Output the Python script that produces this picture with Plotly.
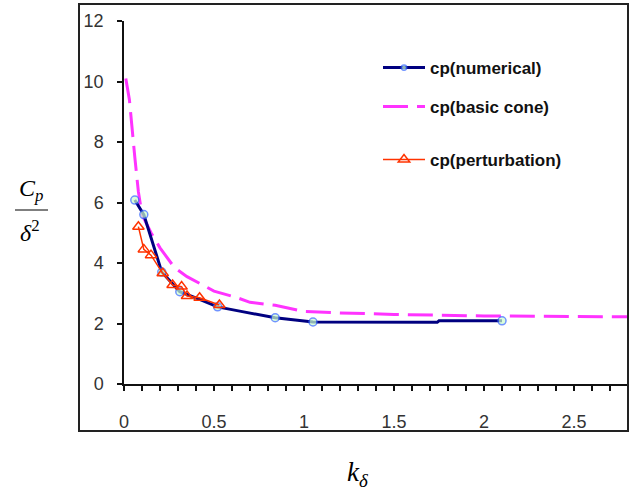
import plotly.graph_objects as go

# ---- data ----
num_x = [0.06, 0.11, 0.21, 0.31, 0.42, 0.52, 0.65, 0.84, 1.05, 1.74, 1.75, 2.10]
num_y = [6.08, 5.60, 3.70, 3.05, 2.80, 2.55, 2.40, 2.19, 2.05, 2.04, 2.09, 2.09]
num_marker = [1, 1, 1, 1, 0, 1, 0, 1, 1, 0, 0, 1]

cone_x = [0.01, 0.03, 0.06, 0.08, 0.10, 0.15, 0.20, 0.28, 0.35, 0.42, 0.50,
          0.62, 0.70, 0.84, 0.94, 1.00, 1.20, 1.50, 2.00, 2.50, 2.80]
cone_y = [10.1, 9.4, 7.5, 6.35, 5.6, 5.0, 4.5, 3.85, 3.55, 3.33, 3.07,
          2.87, 2.70, 2.60, 2.47, 2.40, 2.35, 2.30, 2.25, 2.22, 2.22]

pert_x = [0.08, 0.11, 0.15, 0.215, 0.27, 0.32, 0.35, 0.42, 0.53]
pert_y = [5.20, 4.45, 4.26, 3.66, 3.27, 3.22, 2.91, 2.85, 2.61]

names = ["cp(numerical)", "cp(basic cone)", "cp(perturbation)"]

x_ticks = [0, 0.5, 1, 1.5, 2, 2.5]
x_ticklabels = ["0", "0.5", "1", "1.5", "2", "2.5"]
y_ticks = [0, 2, 4, 6, 8, 10, 12]

W, H = 636, 495
L, R, T, B = 124, 8, 21, 111
pw, ph = W - L - R, H - T - B

fig = go.Figure()

fig.add_trace(go.Scatter(
    x=cone_x, y=cone_y, mode="lines", name=names[1], legend="legend2",
    line=dict(color="#ff33ff", width=3, dash="25px,9px"),
))
fig.add_trace(go.Scatter(
    x=num_x, y=num_y, mode="lines+markers", name=names[0], legend="legend",
    line=dict(color="#000080", width=3),
    marker=dict(symbol="circle", size=[8 * m for m in num_marker],
                color="#ccffcc", line=dict(color="#3366ff", width=1.5)),
))
fig.add_trace(go.Scatter(
    x=pert_x, y=pert_y, mode="lines+markers", name=names[2], legend="legend3",
    line=dict(color="#ff3300", width=1.5),
    marker=dict(symbol="triangle-up-open", size=10,
                color="#ff3300", line=dict(color="#ff3300", width=1.5)),
))

def px_to_paper_x(px):
    return (px - L) / pw

def px_to_paper_y(py):
    return (H - B - py) / ph

legend_font = dict(family="Liberation Sans, Arial", size=17, color="#111111",
                   weight="bold")
common_legend = dict(xanchor="left", yanchor="middle", bgcolor="rgba(0,0,0,0)",
                     borderwidth=0, font=legend_font, itemwidth=42,
                     xref="paper", yref="paper")

tick_font = dict(family="Liberation Sans, Arial", size=18, color="#333333")

fig.update_layout(
    width=W, height=H,
    margin=dict(l=L, r=R, t=T, b=B, pad=0),
    paper_bgcolor="white", plot_bgcolor="white",
    showlegend=True,
    legend=dict(x=px_to_paper_x(378), y=px_to_paper_y(68), **common_legend),
    legend2=dict(x=px_to_paper_x(378), y=px_to_paper_y(107), **common_legend),
    legend3=dict(x=px_to_paper_x(378), y=px_to_paper_y(160), **common_legend),
    xaxis=dict(
        range=[0, 2.8], tickvals=x_ticks, ticktext=x_ticklabels,
        showgrid=False, zeroline=False, showline=True, linecolor="#111111",
        linewidth=1.5, ticks="outside", ticklen=5, tickwidth=1.5,
        tickcolor="#111111", ticklabelstandoff=16,
        minor=dict(dtick=0.1, ticks="outside", ticklen=5, tickwidth=1.5,
                   tickcolor="#111111", showgrid=False),
        tickfont=tick_font,
    ),
    yaxis=dict(
        range=[0, 12], tickvals=y_ticks,
        showgrid=False, zeroline=False, showline=True, linecolor="#111111",
        linewidth=1.5, ticks="outside", ticklen=5, tickwidth=1.5,
        tickcolor="#111111", ticklabelstandoff=10,
        tickfont=tick_font,
    ),
)

# outer frame
fig.add_shape(type="rect", xref="paper", yref="paper",
              x0=px_to_paper_x(79), x1=px_to_paper_x(628),
              y0=px_to_paper_y(431), y1=px_to_paper_y(4),
              line=dict(color="#222222", width=2), fillcolor="rgba(0,0,0,0)",
              layer="above")

# y axis title as a fraction
serif = "Liberation Serif, Times New Roman, serif"
fig.add_annotation(xref="paper", yref="paper", x=px_to_paper_x(31), y=px_to_paper_y(190),
                   text="<i>C</i><sub><i>p</i></sub>", showarrow=False,
                   font=dict(family=serif, size=24, color="black"),
                   xanchor="center", yanchor="middle")
fig.add_shape(type="line", xref="paper", yref="paper",
              x0=px_to_paper_x(15), x1=px_to_paper_x(48),
              y0=px_to_paper_y(210), y1=px_to_paper_y(210),
              line=dict(color="black", width=1.2))
fig.add_annotation(xref="paper", yref="paper", x=px_to_paper_x(30), y=px_to_paper_y(231),
                   text="<i>δ</i><sup>2</sup>", showarrow=False,
                   font=dict(family=serif, size=24, color="black"),
                   xanchor="center", yanchor="middle")
# x axis title
fig.add_annotation(xref="paper", yref="paper", x=px_to_paper_x(358), y=px_to_paper_y(474),
                   text="<i>k</i><sub><i>δ</i></sub>", showarrow=False,
                   font=dict(family=serif, size=27, color="black"),
                   xanchor="center", yanchor="middle")

fig.write_html("out.html",
               config={"displayModeBar": False},
               post_script="document.body.style.margin='0';")
